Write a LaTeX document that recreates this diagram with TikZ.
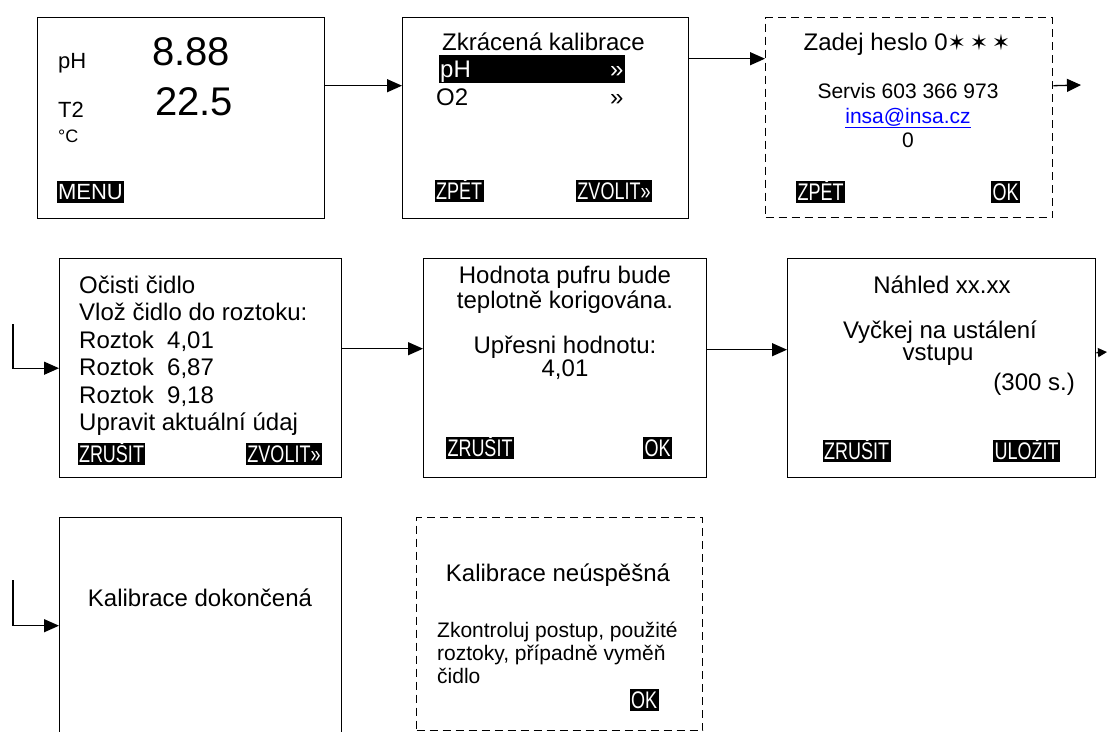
\documentclass[tikz,border=0pt]{standalone}
\usepackage{fontspec}
\setmainfont{Liberation Sans}
\newfontfamily\narrowfont[FakeStretch=0.75]{Liberation Sans}
\newfontfamily\symfont{DejaVu Sans}
\usetikzlibrary{arrows.meta,calc}
\definecolor{linkblue}{RGB}{0,0,255}
\begin{document}
\begin{tikzpicture}[x=1pt,y=-1pt,
  screen/.style={draw=black, line width=1.4pt, inner sep=0, anchor=north west},
  dscreen/.style={screen, dash pattern=on 8pt off 5pt},
  arr/.style={line width=1.3pt, -{Triangle[length=15pt,width=13pt]}},
  sarr/.style={line width=1.3pt, -{Triangle[length=9pt,width=9pt]}},
  t24/.style={inner sep=0, font=\fontsize{24}{27.6}\selectfont},
  t22/.style={inner sep=0, font=\fontsize{22}{25}\selectfont},
  t21/.style={inner sep=0, font=\fontsize{21}{24}\selectfont},
  t18/.style={inner sep=0, font=\fontsize{18}{20}\selectfont},
  big/.style={inner sep=0, font=\fontsize{40}{44}\selectfont},
  lbl/.style={fill=black, text=white, inner xsep=1.5pt, inner ysep=2pt,
    text height=17.5pt, text depth=1pt, font=\narrowfont\fontsize{24}{24}\selectfont},
  lbln/.style={fill=black, text=white, inner xsep=1pt, inner ysep=2.5pt,
    text height=16pt, text depth=1pt, font=\fontsize{22}{22}\selectfont}]
\path[use as bounding box, clip] (0,0) rectangle (1111,731);

% ---------- row 1 ----------
\node[screen, minimum width=287pt, minimum height=201pt] (b1) at (37,17) {};
\node[t22, anchor=base west] (b1ph) at (58,68) {pH};
\node[big, anchor=base west] (b1v1) at (152,65) {8.88};
\node[t22, anchor=base west] (b1t2) at (58,117) {T2};
\node[big, anchor=base west] (b1v2) at (155,115) {22.5};
\node[t18, anchor=base west] (b1c) at (58,142) {°C};
\node[lbln] (b1menu) at (90.5,191.5) {MENU};

\node[screen, minimum width=286pt, minimum height=201pt] (b2) at (402,17) {};
\node[t24, anchor=base] (b2t) at (543.5,50) {Zkrácená kalibrace};
\node[fill=black, inner sep=0, anchor=north west, minimum width=186pt, minimum height=28pt] (b2bar) at (439,55) {};
\node[t24, anchor=base west, text=white] (b2ph) at (440,77) {pH};
\node[t24, anchor=base west, text=white] (b2phr) at (610,77) {»};
\node[t24, anchor=base west] (b2o2) at (436,105) {O2};
\node[t24, anchor=base west] (b2o2r) at (610,105) {»};
\node[lbl] (b2back) at (459,191) {ZPĚT};
\node[lbl] (b2sel) at (614,191) {ZVOLIT»};

\node[dscreen, minimum width=287pt, minimum height=200pt] (b3) at (765,17) {};
\node[t24, anchor=base] (b3t) at (907,50) {Zadej heslo 0{\symfont\fontsize{22}{24}\selectfont ✶\,✶\,✶}};
\node[t21, anchor=base] (b3s) at (908,98) {Servis 603 366 973};
\node[t21, anchor=base, text=linkblue] (b3m) at (908,123) {\underline{insa@insa.cz}};
\node[t21, anchor=base] (b3z) at (908,147) {0};
\node[lbl] (b3back) at (820.5,192) {ZPĚT};
\node[lbl] (b3ok) at (1005.5,192) {OK};

\coordinate (e3) at (1081,85);
\draw[arr] ([yshift=32.5pt]b1.east) -- ([yshift=32.5pt]b2.west);
\draw[arr] ([yshift=59.5pt]b2.east) -- ([yshift=59pt]b3.west);
\draw[line width=1.3pt, -{Triangle[length=14pt,width=13pt]}] ([yshift=32pt]b3.east) -- (e3);

% ---------- row 2 ----------
\node[screen, minimum width=282pt, minimum height=219pt] (b4) at (59,258) {};
\node[t24, anchor=base west] (b4l1) at (79,293) {Očisti čidlo};
\node[t24, anchor=base west] (b4l2) at (79,320) {Vlož čidlo do roztoku:};
\node[t24, anchor=base west] (b4l3) at (79,348) {Roztok\ \ 4,01};
\node[t24, anchor=base west] (b4l4) at (79,375) {Roztok\ \ 6,87};
\node[t24, anchor=base west] (b4l5) at (79,403) {Roztok\ \ 9,18};
\node[t24, anchor=base west] (b4l6) at (79,430) {Upravit aktuální údaj};
\node[lbl] (b4c) at (111.5,454) {ZRUŠIT};
\node[lbl] (b4s) at (284,454) {ZVOLIT»};

\node[screen, minimum width=283pt, minimum height=219pt] (b5) at (423,258) {};
\node[t24, anchor=base] (b5l1) at (565,283) {Hodnota pufru bude};
\node[t24, anchor=base] (b5l2) at (565,308) {teplotně korigována.};
\node[t24, anchor=base] (b5l3) at (565,353) {Upřesni hodnotu:};
\node[t24, anchor=base] (b5l4) at (565,376) {4,01};
\node[lbl] (b5c) at (480,448) {ZRUŠIT};
\node[lbl] (b5ok) at (657.5,448) {OK};

\node[screen, minimum width=308pt, minimum height=219pt] (b6) at (787,258) {};
\node[t24, anchor=base] (b6l1) at (942,293) {Náhled xx.xx};
\node[t24, anchor=base] (b6l2) at (940,338) {Vyčkej na ustálení};
\node[t24, anchor=base] (b6l3) at (938,360) {vstupu};
\node[t24, anchor=base east] (b6l4) at (1075,390) {(300 s.)};
\node[lbl] (b6c) at (856.5,451) {ZRUŠIT};
\node[lbl] (b6s) at (1026.5,451) {ULOŽIT};

\coordinate (s4) at (13,324);
\coordinate (e6) at (1107,352);
\draw[arr] (s4) |- (b4.west);
\draw[arr] ([yshift=19.5pt]b4.east) -- ([yshift=19.5pt]b5.west);
\draw[arr] ([yshift=18.5pt]b5.east) -- ([yshift=18.5pt]b6.west);
\draw[sarr] ([yshift=15.5pt]b6.east) -- (e6);

% ---------- row 3 ----------
\node[screen, minimum width=282pt, minimum height=216pt] (b7) at (59,517) {};
\node[t24, anchor=base] (b7t) at (200,606) {Kalibrace dokončená};

\node[dscreen, minimum width=286pt, minimum height=213pt] (b8) at (416,517) {};
\node[t24, anchor=base] (b8t) at (558,581) {Kalibrace neúspěšná};
\node[t21, anchor=base west] (b8l1) at (437,637) {Zkontroluj postup, použité};
\node[t21, anchor=base west] (b8l2) at (437,660) {roztoky, případně vyměň};
\node[t21, anchor=base west] (b8l3) at (437,683) {čidlo};
\node[lbl] (b8ok) at (644,700) {OK};

\coordinate (s7) at (13,580);
\draw[arr] (s7) |- (b7.west);
\end{tikzpicture}
\end{document}
